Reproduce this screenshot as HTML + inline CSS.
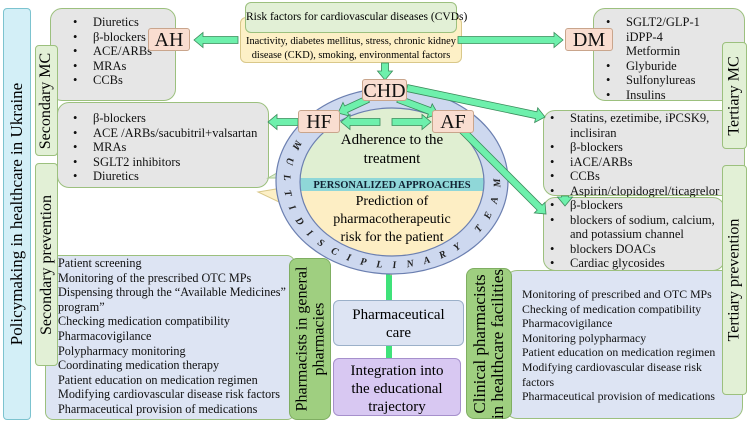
<!DOCTYPE html>
<html><head><meta charset="utf-8">
<style>
body{margin:0;width:750px;height:425px;overflow:hidden;background:#fff;font-family:"Liberation Serif",serif;position:relative}
.b{position:absolute;box-sizing:border-box;border:1px solid #9cc07e}
.gray{background:#e6e6e6;border-radius:12px}
.vert{display:flex;align-items:center;justify-content:center}
.vert span{transform:rotate(-90deg);white-space:nowrap}
ul{margin:0;padding:0;list-style:none}
li{position:relative;padding-left:22px;font-size:12.5px;line-height:14.5px;color:#111;white-space:nowrap}
li:before{content:"•";position:absolute;left:2px}
li.n:before{content:""}
.lab{position:absolute;box-sizing:border-box;background:#f9ddd0;border:1px solid #c9a58c;border-radius:3px;font-size:20px;text-align:center;line-height:22px;color:#111}
.p{font-size:12.2px;line-height:14.6px;color:#111;white-space:nowrap}
</style></head><body>

<div class="b vert" style="left:3px;top:8px;width:28px;height:412px;background:#d3eff7;border-color:#7cc3cf;border-radius:4px"><span style="font-size:17px">Policymaking in healthcare in Ukraine</span></div>

<div class="b gray" style="left:50px;top:8px;width:126px;height:93px;padding:6px 0 0 20px"><ul><li>Diuretics</li><li>β-blockers</li><li>ACE/ARBs</li><li>MRAs</li><li>CCBs</li></ul></div>
<div class="b gray" style="left:57px;top:102px;width:212px;height:86px;padding:8px 0 0 13px"><ul><li>β-blockers</li><li>ACE /ARBs/sacubitril+valsartan</li><li>MRAs</li><li>SGLT2 inhibitors</li><li>Diuretics</li></ul></div>

<div class="b vert" style="left:35px;top:45px;width:23px;height:111px;background:#e2f0d6;border-radius:4px"><span style="font-size:16px">Secondary MC</span></div>

<div class="b" style="left:45px;top:255px;width:250px;height:165px;background:#dde4f3;border-radius:8px"></div>
<div class="b vert" style="left:35px;top:163px;width:23px;height:203px;background:#e2f0d6;border-radius:4px"><span style="font-size:16px">Secondary prevention</span></div>
<div class="p" style="position:absolute;left:58px;top:256px">Patient screening<br>Monitoring of the prescribed OTC MPs<br>Dispensing through the “Available Medicines”<br>program”<br>Checking medication compatibility<br>Pharmacovigilance<br>Polypharmacy monitoring<br>Coordinating medication therapy<br>Patient education on medication regimen<br>Modifying cardiovascular disease risk factors<br>Pharmaceutical provision of medications</div>
<div class="b vert" style="left:289px;top:258px;width:42px;height:162px;background:#9fcf80;border-color:#7fae62;border-radius:8px"><span style="font-size:16px;line-height:17px;text-align:center">Pharmacists in general<br>pharmacies</span></div>

<div class="b" style="left:505px;top:270px;width:238px;height:149px;background:#dde4f3;border-radius:12px"></div>
<div class="b vert" style="left:466px;top:268px;width:46px;height:151px;background:#9fcf80;border-color:#7fae62;border-radius:8px"><span style="font-size:17px;line-height:18px;text-align:center">Clinical pharmacists<br>in healthcare facilities</span></div>
<div class="p" style="position:absolute;left:522px;top:287px;font-size:11.8px">Monitoring of prescribed and OTC MPs<br>Checking of medication compatibility<br>Pharmacovigilance<br>Monitoring polypharmacy<br>Patient education on medication regimen<br>Modifying cardiovascular disease risk<br>factors<br>Pharmaceutical provision of medications</div>

<div class="b" style="left:333px;top:300px;width:131px;height:46px;background:#dde4f3;border-color:#9bb0c9;border-radius:6px;text-align:center;font-size:15px;line-height:18px;padding-top:5px">Pharmaceutical<br>care</div>
<div class="b" style="left:333px;top:358px;width:128px;height:58px;background:#d8c8f2;border-color:#a690cc;border-radius:6px;text-align:center;font-size:15px;line-height:18px;padding-top:3px">Integration into<br>the educational<br>trajectory</div>
<div style="position:absolute;left:386px;top:272px;width:6px;height:28px;background:#3fe27a"></div>
<div style="position:absolute;left:386px;top:346px;width:6px;height:12px;background:#3fe27a"></div>

<div class="b gray" style="left:593px;top:8px;width:152px;height:93px;padding:6px 0 0 10px"><ul><li>SGLT2/GLP-1</li><li class="n">iDPP-4</li><li class="n">Metformin</li><li>Glyburide</li><li>Sulfonylureas</li><li>Insulins</li></ul></div>
<div class="b gray" style="left:543px;top:110px;width:202px;height:86px;padding:0 0 0 4px"><ul style="margin-top:0"><li>Statins, ezetimibe, iPCSK9,<br>inclisiran</li><li>β-blockers</li><li>iACE/ARBs</li><li>CCBs</li><li>Aspirin/clopidogrel/ticagrelor</li></ul></div>
<div class="b gray" style="left:543px;top:197px;width:182px;height:74px;padding:0 0 0 4px"><ul><li>β-blockers</li><li>blockers of sodium, calcium,<br>and potassium channel</li><li>blockers DOACs</li><li>Cardiac glycosides</li></ul></div>
<div class="b vert" style="left:722px;top:42px;width:25px;height:107px;background:#e2f0d6;border-radius:4px"><span style="font-size:16px">Tertiary MC</span></div>
<div class="b vert" style="left:722px;top:165px;width:25px;height:230px;background:#e2f0d6;border-radius:4px"><span style="font-size:16px">Tertiary prevention</span></div>

<div class="b" style="left:240px;top:17px;width:222px;height:46px;background:#fdf0c6;border-color:#d9c88a;border-radius:6px;text-align:center;font-size:10.4px;line-height:13.5px;padding-top:17px;white-space:nowrap">Inactivity, diabetes mellitus, stress, chronic kidney<br>disease (CKD), smoking, environmental factors</div>
<div class="b" style="left:245px;top:2px;width:212px;height:31px;background:#e2f0d6;border-radius:6px;text-align:center;font-size:11.5px;line-height:14px;padding-top:7px;white-space:nowrap">Risk factors for cardiovascular diseases (CVDs)</div>

<svg style="position:absolute;left:0;top:0" width="750" height="425">
<polygon points="268,178 300,160 300,178" fill="#e0efd2" stroke="#a8c890"/>
<polygon points="258,192 300,185 300,212" fill="#fdf0c6" stroke="#d9c88a"/>
<polygon points="484,160 510,178 484,178" fill="#e0efd2" stroke="#a8c890"/>
<polygon points="484,190 505,192 484,205" fill="#fdf0c6" stroke="#d9c88a"/>
<polygon points="372,255 410,255 391,275" fill="#fdf0c6" stroke="#d9c88a"/>
<ellipse cx="392" cy="181" rx="116" ry="93" fill="#cdd8ef" stroke="#6b7fb0" stroke-width="1.2"/>
<clipPath id="ic"><ellipse cx="392" cy="182" rx="92" ry="74"/></clipPath>
<g clip-path="url(#ic)">
<rect x="290" y="100" width="210" height="78" fill="#e0efd2"/>
<rect x="290" y="178" width="210" height="13" fill="#8fd7d8"/>
<rect x="290" y="191" width="210" height="70" fill="#fdeec4"/>
</g>
<ellipse cx="392" cy="182" rx="92" ry="74" fill="none" stroke="#6b7fb0" stroke-width="1.2"/>
<path id="rp" d="M 296.7 140 A 108 87 0 1 0 487.3 140" fill="none"/>
<text font-family="Liberation Serif,serif" font-size="10" font-weight="bold" font-style="italic" fill="#222" letter-spacing="10.5"><textPath href="#rp">MULTIDISCIPLINARY TEAM</textPath></text>
<text x="392" y="144" text-anchor="middle" font-family="Liberation Serif,serif" font-size="15">Adherence to the</text>
<text x="392" y="163" text-anchor="middle" font-family="Liberation Serif,serif" font-size="15">treatment</text>
<text x="392" y="188" text-anchor="middle" font-family="Liberation Serif,serif" font-size="10.5" font-weight="bold" fill="#123">PERSONALIZED APPROACHES</text>
<text x="392" y="205" text-anchor="middle" font-family="Liberation Serif,serif" font-size="14">Prediction of</text>
<text x="392" y="223" text-anchor="middle" font-family="Liberation Serif,serif" font-size="14">pharmacotherapeutic</text>
<text x="392" y="241" text-anchor="middle" font-family="Liberation Serif,serif" font-size="14">risk for the patient</text>
<g id="arrows" fill="#6ef0ac" stroke="#3a8a5a" stroke-width="0.8"></g>
</svg>

<div class="lab" style="left:148px;top:28px;width:42px;height:23px">AH</div>
<div class="lab" style="left:565px;top:28px;width:48px;height:23px">DM</div>
<div class="lab" style="left:362px;top:79px;width:45px;height:22px">CHD</div>
<div class="lab" style="left:298px;top:110px;width:42px;height:23px">HF</div>
<div class="lab" style="left:432px;top:110px;width:42px;height:23px">AF</div>

<script>
function arr(x1,y1,x2,y2){var dx=x2-x1,dy=y2-y1,L=Math.hypot(dx,dy),ux=dx/L,uy=dy/L,nx=-uy,ny=ux,w=3.5,h=7.5,hl=9;
var bx=x2-ux*hl,by=y2-uy*hl;
var p=[[x1+nx*w,y1+ny*w],[bx+nx*w,by+ny*w],[bx+nx*h,by+ny*h],[x2,y2],[bx-nx*h,by-ny*h],[bx-nx*w,by-ny*w],[x1-nx*w,y1-ny*w]];
var e=document.createElementNS("http://www.w3.org/2000/svg","polygon");e.setAttribute("points",p.map(function(q){return q.join(",")}).join(" "));document.getElementById("arrows").appendChild(e);}
arr(238,40,194,40);arr(458,40,563,40);arr(385,63,385,80);arr(368,99,338,113);arr(398,99,438,114);
arr(380,122,341,122);arr(392,122,431,122);arr(298,122,268,122);arr(407,88,545,117);arr(462,130,546,214);arr(565,196,565,206);
</script>
</body></html>
